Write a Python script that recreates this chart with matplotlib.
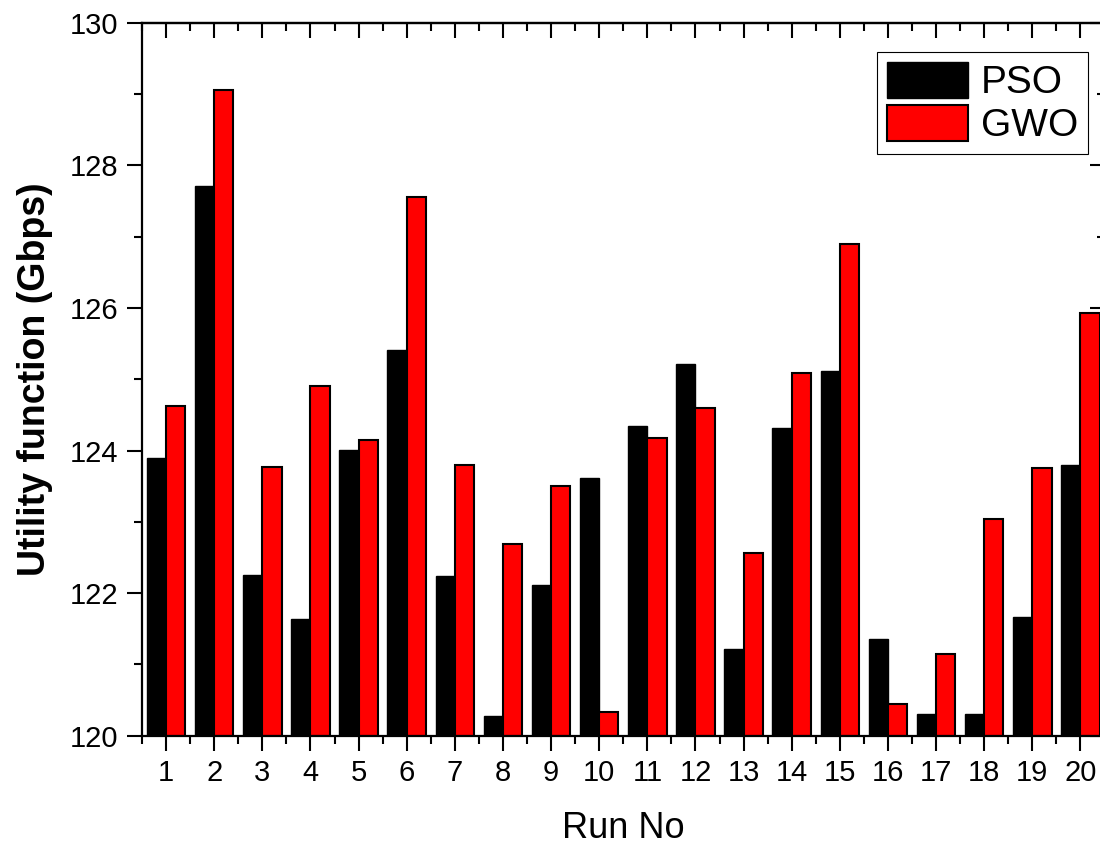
import numpy as np
import matplotlib
matplotlib.use("Agg")
import matplotlib.pyplot as plt
from matplotlib.ticker import MultipleLocator

plt.rcParams['font.family'] = ['Liberation Sans', 'DejaVu Sans']

# данные
runs = np.arange(1, 21)
pso = [123.90, 127.71, 122.25, 121.64, 124.01, 125.41, 122.24, 120.28, 122.12, 123.61,
       124.35, 125.22, 121.22, 124.32, 125.12, 121.36, 120.31, 120.30, 121.67, 123.79]
gwo = [124.63, 129.05, 123.77, 124.90, 124.15, 127.56, 123.79, 122.69, 123.50, 120.33,
       124.17, 124.60, 122.56, 125.09, 126.90, 120.44, 121.15, 123.04, 123.75, 125.93]

fig = plt.figure(figsize=(11, 8.48), dpi=100)
ax = fig.add_axes([0.1291, 0.1324, 0.875, 0.8408])

w = 0.4
base = 120
ax.bar(runs - w / 2, np.array(pso) - base, w, bottom=base, color="black",
       edgecolor="black", linewidth=1.0, label="PSO")
ax.bar(runs + w / 2, np.array(gwo) - base, w, bottom=base, color="red",
       edgecolor="black", linewidth=1.5, label="GWO")

ax.set_xlim(0.5, 20.5)
ax.set_ylim(120, 130)
ax.set_xticks(runs)
ax.xaxis.set_minor_locator(MultipleLocator(0.5))
ax.yaxis.set_major_locator(MultipleLocator(2))
ax.yaxis.set_minor_locator(MultipleLocator(1))

for s in ax.spines.values():
    s.set_linewidth(1.6)

ax.tick_params(axis="both", which="both", width=1.5, labelsize=21)
ax.tick_params(axis="x", which="major", length=11, direction="out", top=False, pad=6)
ax.tick_params(axis="x", which="minor", length=5.5, direction="out", top=False)
ax.tick_params(axis="y", which="major", length=11, direction="out", right=False, pad=6)
ax.tick_params(axis="y", which="minor", length=5.5, direction="out", right=False)

# внутренние деления сверху и справа
sec_x = ax.secondary_xaxis("top")
sec_x.set_xticks(runs)
sec_x.xaxis.set_minor_locator(MultipleLocator(0.5))
sec_x.tick_params(which="major", direction="in", length=11, width=1.5, labeltop=False)
sec_x.tick_params(which="minor", direction="in", length=5.5, width=1.5)
sec_x.spines["top"].set_linewidth(1.6)
sec_y = ax.secondary_yaxis("right")
sec_y.yaxis.set_major_locator(MultipleLocator(2))
sec_y.yaxis.set_minor_locator(MultipleLocator(1))
sec_y.tick_params(which="major", direction="in", length=11, width=1.5, labelright=False)
sec_y.tick_params(which="minor", direction="in", length=5.5, width=1.5)
sec_y.spines["right"].set_linewidth(1.6)

ax.set_xlabel("Run No", fontsize=26, labelpad=17)
ax.set_ylabel("Utility function (Gbps)", fontsize=27, fontweight="bold", labelpad=12)

leg = ax.legend(loc="upper right", bbox_to_anchor=(0.983, 0.959), borderaxespad=0,
                fontsize=28, fancybox=False, edgecolor="black", framealpha=1,
                handlelength=2.1, handleheight=1.05, handletextpad=0.33,
                labelspacing=0.1, borderpad=0.25)
leg.get_frame().set_linewidth(0.8)

fig.savefig("out.png", dpi=100)
